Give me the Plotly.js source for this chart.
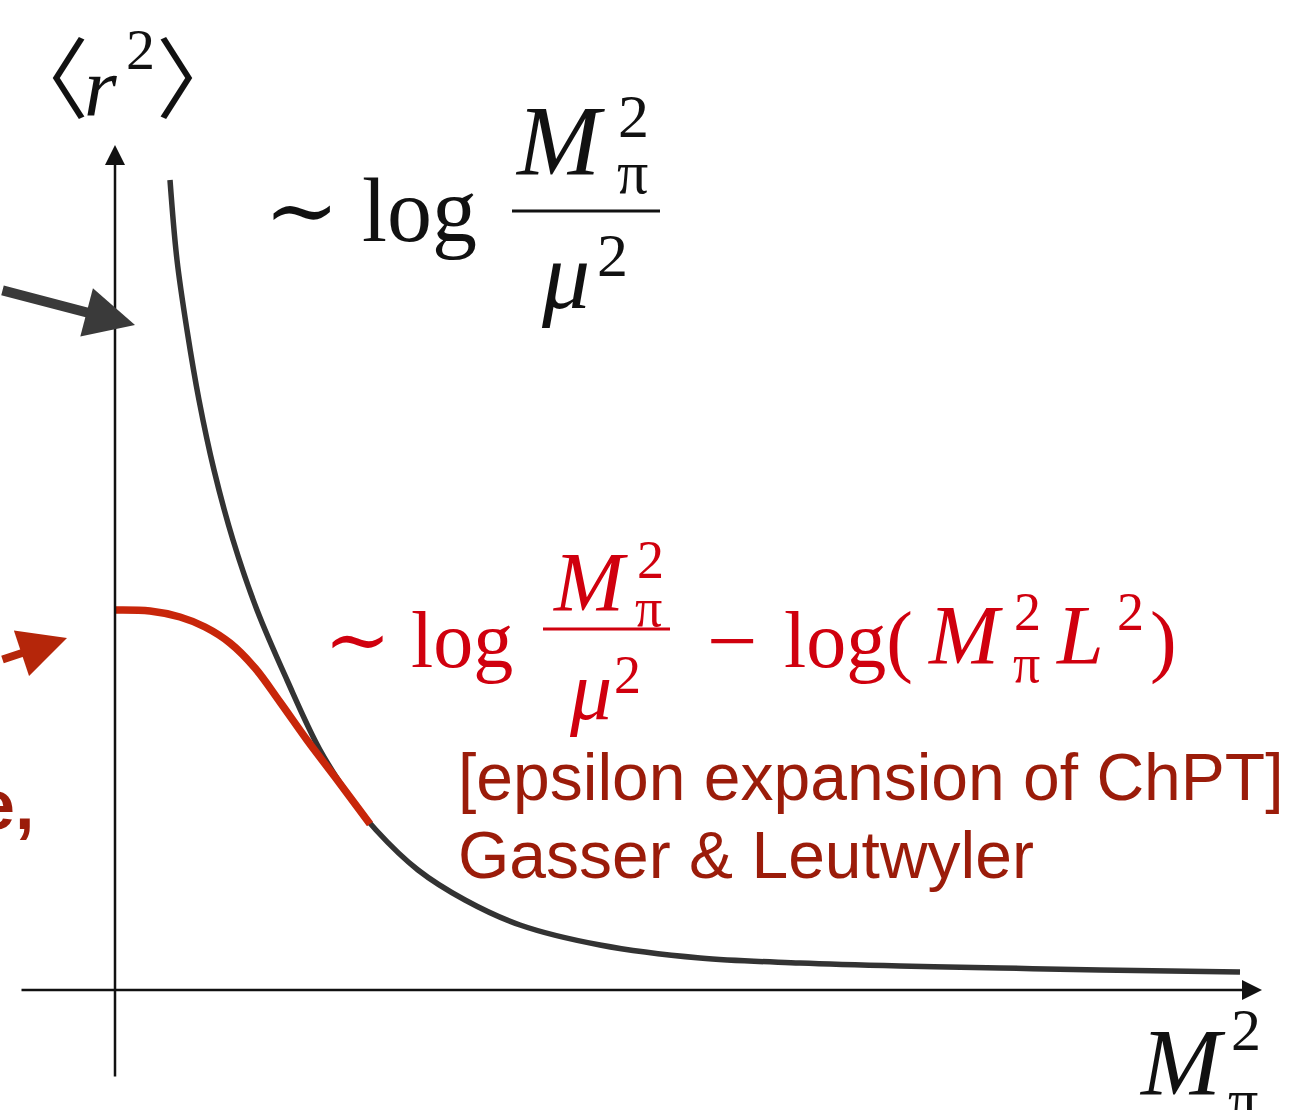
<!DOCTYPE html>
<html>
<head>
<meta charset="utf-8">
<script src="https://cdn.plot.ly/plotly-3.0.1.min.js"></script>
<style>html,body{margin:0;padding:0;background:#fff;} #chart{width:1299px;height:1110px;}</style>
</head>
<body>
<div id="chart"></div>
<script>
// ---- data (arbitrary units: x = M_pi^2, y = <r^2>) ----
const fullX = [0.55, 0.62, 0.72, 0.84, 0.99, 1.18, 1.42, 1.72, 2.05, 2.37, 2.61, 3.03, 3.5, 4.05, 4.85, 5.85, 6.85, 7.85, 8.85, 9.85, 11.25];
const fullY = [8.1, 7.3, 6.6, 5.9, 5.2, 4.5, 3.8, 3.1, 2.4, 1.9, 1.6, 1.2, 0.9, 0.65, 0.45, 0.32, 0.27, 0.24, 0.22, 0.2, 0.18];
const epsX = [0, 0.35, 0.65, 0.9, 1.15, 1.4, 1.65, 1.92, 2.2, 2.55];
const epsY = [3.8, 3.79, 3.73, 3.63, 3.47, 3.22, 2.88, 2.5, 2.13, 1.66];
const xAxisLine = {from: [-0.95, 0], to: [11.47, 0]};
const yAxisLine = {from: [0, -0.88], to: [0, 8.45]};
const grayArrow = {from: [-1.14, 7.0], to: [0.2, 6.65]};
const redArrow = {from: [-1.14, 3.3], to: [-0.48, 3.52]};

const W = 1299, H = 1110;
const BLACK = '#333333', RED = '#c8260a', DARKRED = '#9b1c0a', MATHRED = '#d0000e';
const SERIF = 'Liberation Serif, DejaVu Serif, serif';
const SANS = 'Liberation Sans, Arial, sans-serif';
const CJK = 'Noto Sans CJK JP, sans-serif';

const annotations = [];
const shapes = [];
function t(text, x, y, size, color, xa, ya, fam) {
  annotations.push({xref:'paper', yref:'paper', x: x / W, y: 1 - y / H, text: text,
    showarrow:false, xanchor: xa || 'left', yanchor: ya || 'middle',
    font:{size:size, color:color, family: fam || SERIF}});
}
function bar(x0, x1, y, color, w) {
  shapes.push({type:'line', xref:'paper', yref:'paper', x0:x0/W, x1:x1/W, y0:1-y/H, y1:1-y/H, line:{color:color, width:w}});
}
function arrow(a, color, width, size) {
  annotations.push({x:a.to[0], y:a.to[1], ax:a.from[0], ay:a.from[1], xref:'x', yref:'y', axref:'x', ayref:'y',
    showarrow:true, arrowhead:2, arrowsize:size, arrowwidth:width, arrowcolor:color, text:''});
}

// axes
arrow(xAxisLine, '#111', 2.5, 1.6);
arrow(yAxisLine, '#111', 2.5, 1.6);
arrow(grayArrow, '#3a3a3a', 10, 1.0);
arrow(redArrow, '#b5260a', 8, 1.2);

// y label <r^2>
t('〈', 45, 72, 88, '#111', 'center', 'middle', CJK);
t('<i>r</i>', 100, 88, 84, '#111', 'center', 'middle');
t('2', 140, 50, 58, '#111', 'center', 'middle');
t('〉', 200, 72, 88, '#111', 'center', 'middle', CJK);
// x label M_pi^2
t('<i>M</i>', 1182, 1062, 96, '#111', 'center', 'middle');
t('2', 1246, 1030, 60, '#111', 'center', 'middle');
t('π', 1243, 1100, 60, '#111', 'center', 'middle');

// black formula ~ log M_pi^2 / mu^2
t('∼ log', 262, 210, 90, '#111', 'left', 'middle');
t('<i>M</i>', 560, 140, 100, '#111', 'center', 'middle');
t('2', 633, 116, 62, '#111', 'center', 'middle');
t('π', 632, 172, 62, '#111', 'center', 'middle');
bar(512, 660, 211, '#111', 3);
t('<i>μ</i>', 565, 275, 96, '#111', 'center', 'middle');
t('2', 612, 255, 62, '#111', 'center', 'middle');

// red formula
t('∼ log', 322, 640, 80, MATHRED, 'left', 'middle');
t('<i>M</i>', 590, 582, 84, MATHRED, 'center', 'middle');
t('2', 650, 560, 54, MATHRED, 'center', 'middle');
t('π', 648, 608, 54, MATHRED, 'center', 'middle');
bar(543, 670, 629, MATHRED, 3);
t('<i>μ</i>', 590, 690, 84, MATHRED, 'center', 'middle');
t('2', 627, 675, 54, MATHRED, 'center', 'middle');
t('−', 732, 640, 90, MATHRED, 'center', 'middle');
t('log(', 782, 640, 80, MATHRED, 'left', 'middle');
t('<i>M</i>', 966, 635, 84, MATHRED, 'center', 'middle');
t('2', 1027, 612, 54, MATHRED, 'center', 'middle');
t('π', 1026, 664, 54, MATHRED, 'center', 'middle');
t('<i>L</i>', 1080, 635, 84, MATHRED, 'center', 'middle');
t('2', 1130, 612, 54, MATHRED, 'center', 'middle');
t(')', 1148, 640, 80, MATHRED, 'left', 'middle');

// captions
t('[epsilon expansion of ChPT]', 456, 777, 66, DARKRED, 'left', 'middle', SANS);
t('Gasser &amp; Leutwyler', 456, 855, 66, DARKRED, 'left', 'middle', SANS);
// cut-off text at left
t('<b>e,</b>', 36, 805, 70, DARKRED, 'right', 'middle', SANS);

const traces = [
  {x: fullX, y: fullY, mode:'lines', line:{color:BLACK, width:5.5, shape:'spline', smoothing:1.0}, hoverinfo:'skip'},
  {x: epsX, y: epsY, mode:'lines', line:{color:RED, width:7.5, shape:'spline', smoothing:1.0}, hoverinfo:'skip'}
];

const layout = {
  width: W, height: H, margin:{l:0, r:0, t:0, b:0},
  paper_bgcolor:'#fff', plot_bgcolor:'#fff', showlegend:false,
  xaxis:{range:[-1.15, 11.84], visible:false, fixedrange:true},
  yaxis:{range:[-1.2, 9.9], visible:false, fixedrange:true},
  annotations: annotations, shapes: shapes
};
Plotly.newPlot('chart', traces, layout, {displayModeBar:false, staticPlot:true});
</script>
</body>
</html>
